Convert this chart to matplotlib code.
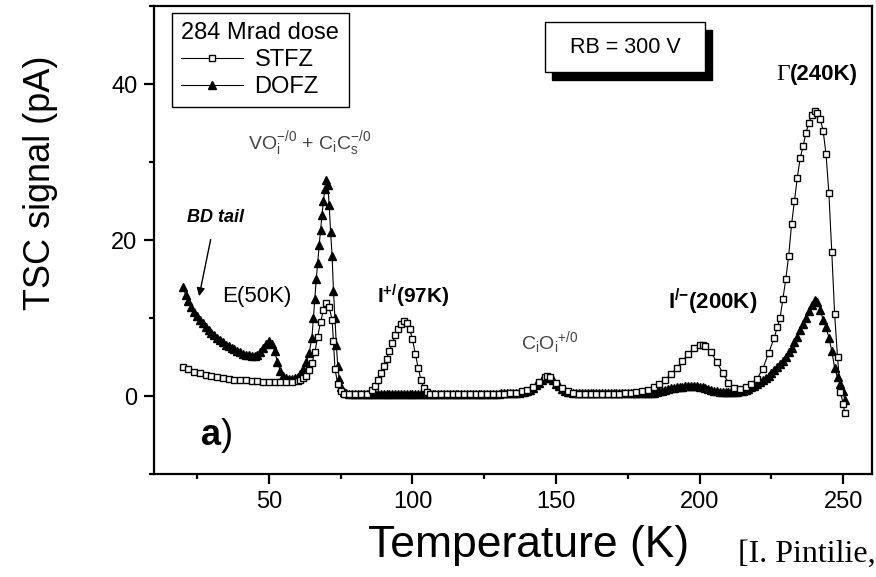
import matplotlib
matplotlib.use("Agg")
import matplotlib.pyplot as plt
from matplotlib.patches import Rectangle
from matplotlib.ticker import MultipleLocator

plt.rcParams['font.family'] = ['Liberation Sans', 'DejaVu Sans']
plt.rcParams['mathtext.fontset'] = 'custom'
plt.rcParams['mathtext.rm'] = 'Liberation Sans'
plt.rcParams['mathtext.it'] = 'Liberation Sans:italic'
plt.rcParams['mathtext.bf'] = 'Liberation Sans:bold'

# STFZ (open squares), temperature in K, TSC signal in pA
stfz_T = [20, 22, 24, 26, 28, 30, 32, 34, 36, 38, 40, 42, 44, 46, 48, 50, 52, 54, 56, 58,
          60, 61, 62, 63, 64, 65, 66, 67, 68, 69, 70, 71, 72, 72.5, 73, 74, 75, 76, 78, 80,
          82, 84, 86, 87, 88, 89, 90, 91, 92, 93, 94, 95, 96, 97, 98, 99, 100, 101, 102, 103,
          104, 105, 106, 108, 110, 112, 114, 116, 118, 120, 122, 124, 126, 128, 130, 132, 134, 136, 138, 140,
          142, 144, 146, 147, 148, 150, 152, 154, 156, 158, 160, 162, 164, 166, 168, 170, 172, 174, 176, 178,
          180, 182, 184, 186, 188, 190, 192, 194, 196, 198, 200, 201, 202, 204, 206, 208, 210, 212, 214, 216,
          218, 220, 222, 224, 226, 227, 228, 229, 230, 231, 232, 233, 234, 235, 236, 237, 238, 239, 240, 241,
          242, 243, 244, 245, 246, 247, 248, 249, 250, 250.5]
stfz_S = [3.7, 3.4, 3.1, 2.9, 2.7, 2.6, 2.4, 2.3, 2.2, 2.1, 2.0, 2.0, 1.9, 1.9, 1.8, 1.8, 1.8, 1.8, 1.8, 1.8,
          1.9, 2.1, 2.3, 2.6, 3.3, 4.2, 5.6, 7.6, 9.5, 11.0, 11.9, 11.4, 9.8, 7.0, 3.5, 1.5, 0.6, 0.3, 0.2, 0.2,
          0.2, 0.3, 0.8, 1.3, 2.0, 2.9, 3.8, 4.8, 5.8, 6.8, 7.8, 8.6, 9.2, 9.6, 9.4, 8.6, 7.3, 5.4, 3.6, 2.0,
          1.0, 0.5, 0.3, 0.2, 0.2, 0.2, 0.2, 0.2, 0.2, 0.2, 0.2, 0.2, 0.3, 0.3, 0.3, 0.3, 0.4, 0.4, 0.6, 0.8,
          1.2, 1.8, 2.4, 2.6, 2.4, 1.7, 1.0, 0.6, 0.4, 0.3, 0.3, 0.3, 0.3, 0.3, 0.3, 0.3, 0.3, 0.4, 0.4, 0.5,
          0.6, 0.8, 1.1, 1.5, 2.1, 2.8, 3.6, 4.5, 5.4, 6.1, 6.5, 6.6, 6.4, 5.6, 4.3, 3.0, 1.7, 1.0, 0.9, 1.1,
          1.6, 2.2, 3.5, 5.5, 7.5, 8.8, 10.0, 12.5, 15.0, 18.0, 22.0, 25.0, 28.0, 30.5, 32.0, 33.7, 35.0, 36.0, 36.6, 36.3,
          35.5, 34.0, 31.0, 26.0, 18.5, 10.5, 5.0, 0.5, -1.0, -2.2]

# DOFZ (filled triangles)
dofz_T = [20, 21, 22, 23, 24, 25, 26, 27, 28, 29,
          30, 31, 32, 33, 34, 35, 36, 37, 38, 39,
          40, 41, 42, 43, 44, 45, 46, 47, 48, 49,
          50, 51, 52, 53, 54, 55, 56, 57, 58, 59,
          60, 61, 62, 63, 64, 65, 65.5, 66, 66.5, 67,
          67.5, 68, 68.5, 69, 69.5, 70, 70.5, 71, 71.5, 72,
          72.5, 73, 73.5, 74, 74.5, 75, 76, 77, 78, 79,
          80, 81, 82, 83, 84, 85, 86, 87, 88, 89,
          90, 91, 92, 93, 94, 95, 96, 97, 98, 99,
          100, 101, 102, 103, 104, 105, 106, 107, 108, 109,
          110, 111, 112, 113, 114, 115, 116, 117, 118, 119,
          120, 121, 122, 123, 124, 125, 126, 127, 128, 129,
          130, 131, 132, 133, 134, 135, 136, 137, 138, 139,
          140, 141, 142, 143, 144, 145, 146, 147, 148, 149,
          150, 151, 152, 153, 154, 155, 156, 157, 158, 159,
          160, 161, 162, 163, 164, 165, 166, 167, 168, 169,
          170, 171, 172, 173, 174, 175, 176, 177, 178, 179,
          180, 181, 182, 183, 184, 185, 186, 187, 188, 189,
          190, 191, 192, 193, 194, 195, 196, 197, 198, 199,
          200, 201, 202, 203, 204, 205, 206, 207, 208, 209,
          210, 211, 212, 213, 214, 215, 216, 217, 218, 219,
          220, 221, 222, 223, 224, 225, 226, 227, 228, 229,
          230, 231, 232, 233, 234, 235, 236, 237, 238, 239,
          240, 241, 242, 243, 244, 245, 246, 247, 248, 249,
          250, 250.5]
dofz_S = [14.0, 13.0, 12.2, 11.4, 10.8, 10.3, 9.8, 9.3, 8.8, 8.4,
          8.1, 7.8, 7.5, 7.2, 6.9, 6.6, 6.4, 6.2, 6.0, 5.8,
          5.6, 5.4, 5.3, 5.2, 5.1, 5.1, 5.3, 5.7, 6.2, 6.7,
          7.0, 6.7, 5.8, 4.3, 3.2, 2.6, 2.3, 2.2, 2.2, 2.3,
          2.4, 2.8, 3.4, 4.3, 5.5, 7.5, 10.0, 12.5, 15.0, 17.0,
          19.3, 21.3, 23.2, 25.0, 26.5, 27.7, 27.0, 24.5, 21.0, 18.0,
          13.5, 10.0, 6.5, 3.8, 2.2, 1.2, 0.5, 0.4, 0.3, 0.3,
          0.3, 0.3, 0.3, 0.3, 0.3, 0.3, 0.3, 0.3, 0.3, 0.3,
          0.3, 0.3, 0.3, 0.3, 0.3, 0.3, 0.3, 0.3, 0.3, 0.3,
          0.3, 0.3, 0.3, 0.3, 0.3, 0.3, 0.3, 0.3, 0.3, 0.3,
          0.3, 0.3, 0.3, 0.3, 0.3, 0.3, 0.3, 0.3, 0.3, 0.3,
          0.3, 0.3, 0.3, 0.3, 0.3, 0.3, 0.3, 0.3, 0.3, 0.3,
          0.3, 0.4, 0.4, 0.4, 0.4, 0.4, 0.4, 0.4, 0.5, 0.55,
          0.6, 0.8, 1.0, 1.35, 1.7, 2.0, 2.3, 2.5, 2.3, 2.0,
          1.6, 1.25, 0.9, 0.7, 0.5, 0.45, 0.4, 0.4, 0.4, 0.4,
          0.4, 0.4, 0.4, 0.4, 0.4, 0.4, 0.4, 0.4, 0.4, 0.4,
          0.4, 0.4, 0.4, 0.4, 0.4, 0.4, 0.4, 0.4, 0.4, 0.4,
          0.4, 0.4, 0.4, 0.4, 0.4, 0.5, 0.6, 0.7, 0.8, 0.9,
          1.0, 1.05, 1.1, 1.15, 1.2, 1.25, 1.3, 1.3, 1.3, 1.25,
          1.2, 1.1, 1.0, 0.9, 0.8, 0.7, 0.6, 0.55, 0.5, 0.5,
          0.5, 0.5, 0.5, 0.55, 0.6, 0.7, 0.8, 0.95, 1.1, 1.3,
          1.5, 1.75, 2.0, 2.3, 2.6, 2.95, 3.3, 3.7, 4.1, 4.55,
          5.0, 5.6, 6.2, 6.9, 7.6, 8.4, 9.2, 10.0, 10.9, 11.7,
          12.3, 12.0, 11.0, 9.8, 8.8, 7.5, 5.8, 3.6, 2.4, 1.5,
          0.6, -0.5]

x_ticks = [50, 100, 150, 200, 250]
y_ticks = [0, 20, 40]

fig = plt.figure(figsize=(8.76, 5.77), dpi=100)
ax = fig.add_axes([0.1758, 0.1785, 0.8196, 0.8111])

l1, = ax.plot(stfz_T, stfz_S, color='black', lw=0.8, marker='s', markersize=5,
              markerfacecolor='white', markeredgecolor='black', markeredgewidth=1.0,
              label='STFZ', zorder=3)
l2, = ax.plot(dofz_T, dofz_S, color='black', lw=0.8, marker='^', markersize=6,
              markerfacecolor='black', markeredgecolor='black', label='DOFZ', zorder=2)

ax.set_xlim(10, 260)
ax.set_ylim(-10, 50)
ax.set_xticks(x_ticks)
ax.set_yticks(y_ticks)
ax.xaxis.set_minor_locator(MultipleLocator(25))
ax.yaxis.set_minor_locator(MultipleLocator(10))
ax.tick_params(which='major', direction='out', length=7, width=1.6, labelsize=17, pad=5)
ax.tick_params(which='minor', direction='out', length=3.5, width=1.6)
for sp in ax.spines.values():
    sp.set_linewidth(1.6)

ax.set_xlabel('Temperature (K)', fontsize=32)
ax.xaxis.set_label_coords(0.521, -0.11)
ax.set_ylabel('TSC signal (pA)', fontsize=26)
ax.yaxis.set_label_coords(-0.134, 0.622)

leg = ax.legend(handles=[l1, l2], title='284 Mrad dose', loc='upper left',
                bbox_to_anchor=(0.025, 0.985), borderaxespad=0, fontsize=17,
                title_fontsize=17, alignment='left', fancybox=False, framealpha=1,
                edgecolor='black', handlelength=2.6, handletextpad=0.5,
                labelspacing=0.2, borderpad=0.4, markerscale=0.9)
leg.get_frame().set_linewidth(1.0)

# RB box with drop shadow
ax.add_patch(Rectangle((0.5543, 0.8419), 0.2228, 0.1068, transform=ax.transAxes,
                       fc='black', ec='black', zorder=5))
ax.add_patch(Rectangle((0.5446, 0.8590), 0.2228, 0.1068, transform=ax.transAxes,
                       fc='white', ec='black', lw=1.0, zorder=6))
ax.text(0.656, 0.912, 'RB = 300 V', transform=ax.transAxes, fontsize=15.5,
        ha='center', va='center', zorder=7)

# peak labels
ax.text(231.4, 41.2, '\u0393', family='Liberation Serif', fontsize=17, ha='right', va='center')
ax.text(231.4, 41.2, '(240K)', fontsize=16, fontweight='bold', ha='left', va='center')
ax.text(64.3, 32.4, r'VO$_\mathregular{i}^\mathregular{-/0}$ + C$_\mathregular{i}$C$_\mathregular{s}^\mathregular{-/0}$',
        fontsize=14, color='#444444', ha='center', va='center')
ax.annotate('BD tail', xy=(25.7, 12.8), xytext=(31.3, 22.9), fontsize=13, fontweight='bold',
            fontstyle='italic', ha='center', va='center',
            arrowprops=dict(arrowstyle='-|>', color='black', lw=1.0, shrinkA=8, shrinkB=0,
                            mutation_scale=12))
ax.text(45.9, 12.8, 'E(50K)', fontsize=16, ha='center', va='center')
ax.text(100.1, 12.8, r'I$\mathbf{^{+/}}$(97K)', fontsize=15, fontweight='bold', ha='center', va='center')
ax.text(147.8, 6.9, r'C$_\mathregular{i}$O$_\mathregular{i}$$^\mathregular{+/0}$', fontsize=14,
        color='#444444', ha='center', va='center')
ax.text(204.4, 12.1, r'I$\mathbf{^{/{-}}}$(200K)', fontsize=16, fontweight='bold', ha='center', va='center')
ax.text(31.5, -5.1, r'$\mathbf{a}$)', fontsize=26, ha='center', va='center')

fig.text(738 / 876, 1 - 562 / 577, '[I. Pintilie,', family='Liberation Serif', fontsize=23,
         ha='left', va='baseline')

fig.savefig('out.png', dpi=100)
